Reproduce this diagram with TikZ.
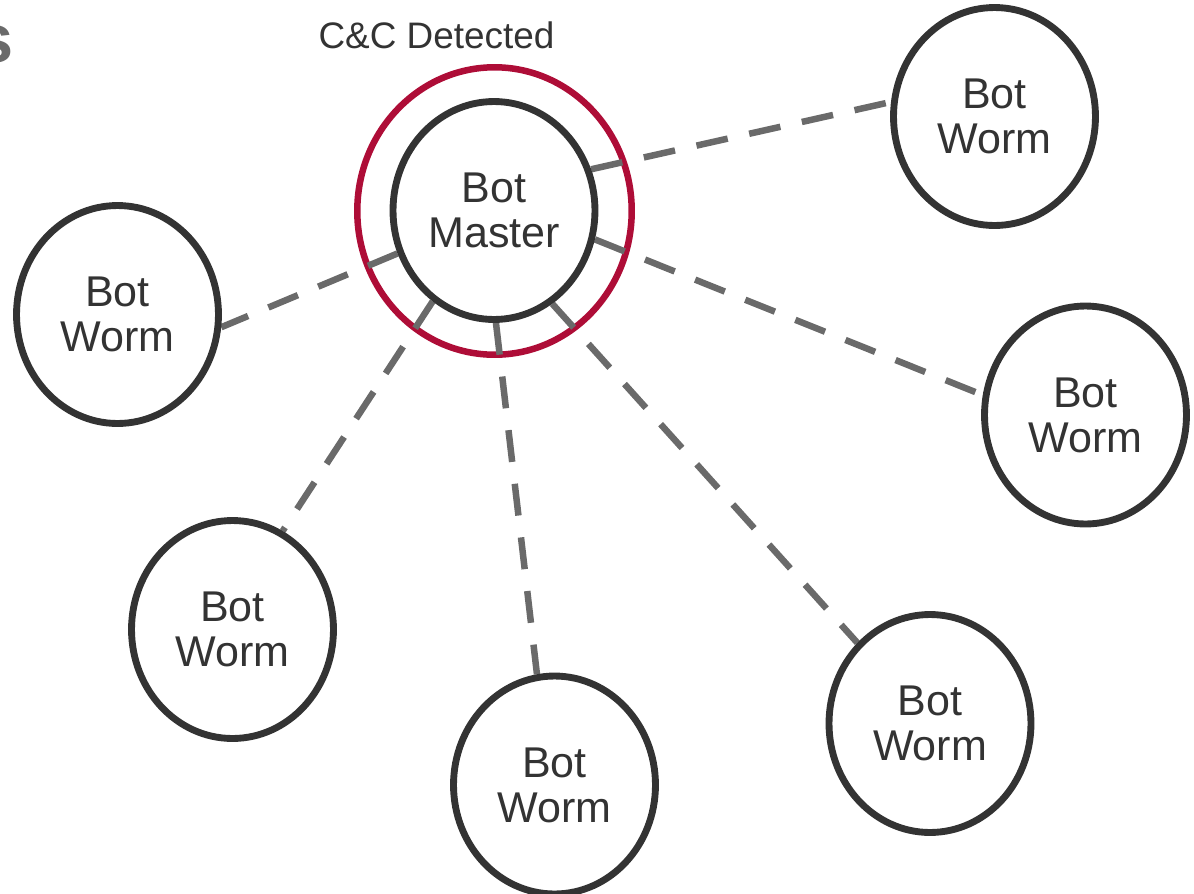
\documentclass[tikz,border=0pt]{standalone}
\usepackage{fontspec}
\setmainfont{Liberation Sans}
\usepackage{xcolor}
\usetikzlibrary{shapes.geometric, backgrounds}
\definecolor{botgray}{HTML}{333333}
\definecolor{linkgray}{HTML}{6A6A6A}
\definecolor{alertred}{HTML}{AE0D37}

\begin{document}
\begin{tikzpicture}[
    x=0.02cm, y=-0.02cm,
    bot/.style={ellipse, draw=botgray, line width=3.9pt, fill=white, minimum width=4.04cm, minimum height=4.36cm, inner sep=0pt, align=center, text=botgray, font=\fontsize{24.5}{25.5}\selectfont},
    ring/.style={ellipse, draw=alertred, line width=3.7pt, minimum width=5.49cm, minimum height=5.75cm, inner sep=0pt},
    caption/.style={inner sep=0pt, text=botgray, font=\fontsize{21}{21}\selectfont},
    link/.style={draw=linkgray, line width=3.7pt, dash pattern=on 0.64cm off 0.44cm}
]
\useasboundingbox (0,0) rectangle (1194,893);

% heading, cut by the page edge
\node[anchor=base east, inner sep=0pt, text=linkgray, font=\bfseries\fontsize{39}{39}\selectfont] (heading) at (14,62) {s};

\node[bot] (master) at (494,210.5) {Bot\\Master};
\node[caption] (cnclabel) at (436.5,35.5) {C\&C Detected};

\node[bot] (w1) at (994.5,116.5) {Bot\\Worm};
\node[bot] (w2) at (117.5,314.5) {Bot\\Worm};
\node[bot] (w3) at (1085.5,415) {Bot\\Worm};
\node[bot] (w4) at (232.5,629.5) {Bot\\Worm};
\node[bot] (w5) at (554.5,785) {Bot\\Worm};
\node[bot] (w6) at (930,723.5) {Bot\\Worm};

\begin{pgfonlayer}{background}
\node[ring] (cnc) at (494.5,211) {};
\draw[link] (master.23.3) -- (w1.172.4);
\draw[link] (master.204.2) -- (w2.-7);
\draw[link] (master.-16.8) -- (w3.169.3);
\draw[link] (master.236.3) -- (w4.63);
\draw[link] (master.271.5) -- (w5.99.4);
\draw[link] (master.-58) -- (w6.132.5);
\end{pgfonlayer}
\end{tikzpicture}
\end{document}
